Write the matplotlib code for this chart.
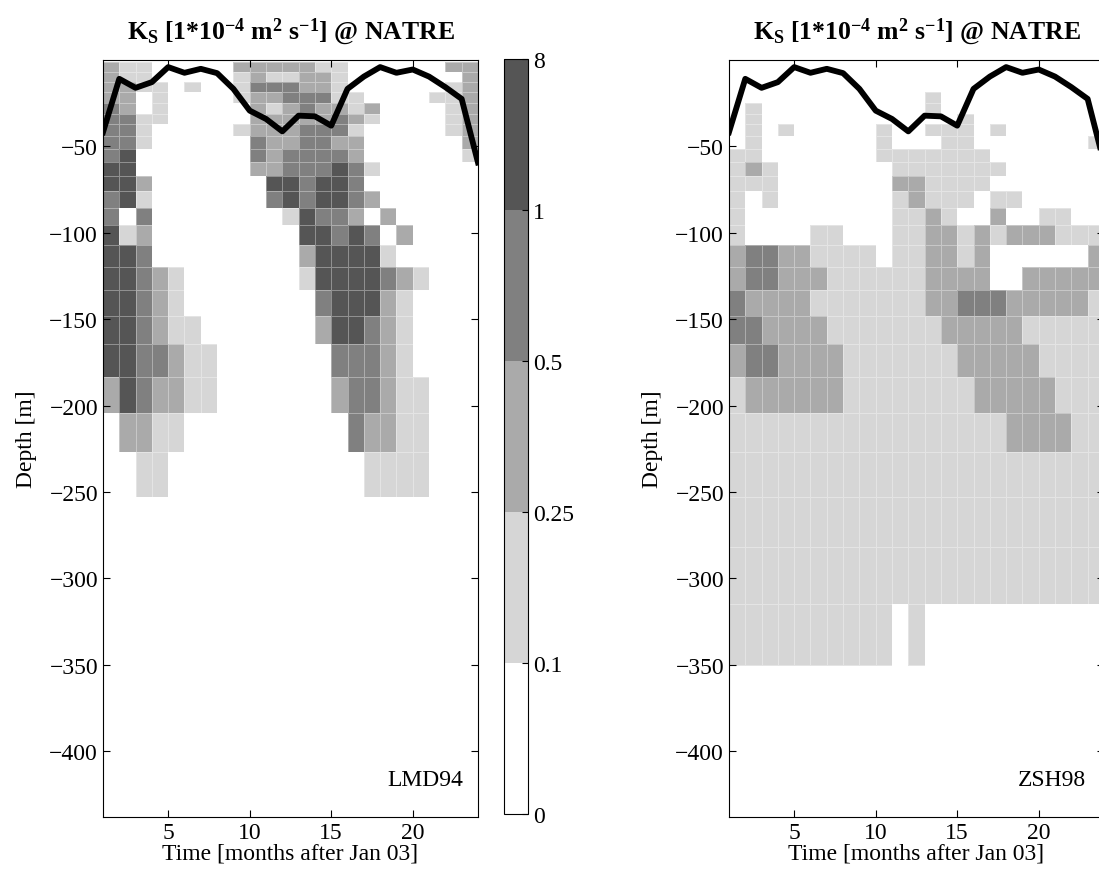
import matplotlib.pyplot as plt
import numpy as np
from matplotlib.colors import ListedColormap, BoundaryNorm

plt.rcParams.update({
    'font.family': 'Liberation Serif',
    'mathtext.fontset': 'custom',
    'mathtext.rm': 'Liberation Serif:bold',
    'mathtext.it': 'Liberation Serif:bold',
    'mathtext.bf': 'Liberation Serif:bold',
    'mathtext.default': 'rm',
})

# time axis (months after Jan 03) and model depth levels (cell edges)
months = np.arange(1, 25)
depth_edges = [-1, -7.2, -13.0, -18.8, -24.6, -31.0, -37.2, -44.0, -51.3, -58.9,
               -67.2, -75.9, -85.6, -95.7, -106.9, -119.5, -133.0, -148.1, -164.5,
               -183.3, -204.0, -226.8, -252.6, -282.0, -314.5, -350.2]

# mixed layer depth
mld = [-41.8, -10.9, -16.1, -12.8, -4.1, -7.4, -5.1, -7.6, -16.7, -29.3, -34.1, -41.3,
       -32.2, -32.6, -38.0, -16.7, -9.6, -4.1, -7.4, -5.5, -9.6, -15.7, -22.5, -59.3]

levels = [0, 0.1, 0.25, 0.5, 1, 8]
level_labels = ['0', '0.1', '0.25', '0.5', '1', '8']
# representative K_S value for each class 0..4
class_value = [0.05, 0.17, 0.35, 0.7, 2.0]

# class of each cell, one string per depth row (top to bottom), 23 months each
lmd94_rows = [
    "21100000222221100000022",
    "21100000121122100000002",
    "22110100133322100000012",
    "22010000122333110000112",
    "32010000021232212000012",
    "33110000022222321000012",
    "33100000122233310000012",
    "33100000032233220000002",
    "34000000032333320000001",
    "44000000022333431000000",
    "44200000004434430000000",
    "34100000003434432000000",
    "30300000000143320200000",
    "41200000000044343020000",
    "44300000000024444100000",
    "44321000000014444321000",
    "44321000000003444210000",
    "44321100000002443210000",
    "44332110000000333210000",
    "24322110000000233211000",
    "02211000000000032211000",
    "00110000000000001111000",
    "00000000000000000000000",
    "00000000000000000000000",
    "00000000000000000000000",
]

zsh98_rows = [
    "00000000000000000000000",
    "00000000000000000000000",
    "00000000000000000000000",
    "00000000000010000000000",
    "01000000000010000000000",
    "01000000000000100000000",
    "01010000010011101000000",
    "01000000010001100000001",
    "11000000011111110000000",
    "12100000001111111000000",
    "11100000002211110000000",
    "10100000001211101100000",
    "10000000001121002001100",
    "10000110001122121222111",
    "23322111101122120000002",
    "23322211111122220022222",
    "32222111111122333222221",
    "33222211111112222211111",
    "23322221111111222221111",
    "12222221111111122222111",
    "11111111111111111222211",
    "11111111111111111111111",
    "11111111111111111111111",
    "11111111111111111111111",
    "11111111110100000000000",
]


def to_field(rows):
    return np.array([[class_value[int(c)] for c in r] for r in rows])


cmap = ListedColormap(['#ffffff', '#d6d6d6', '#aaaaaa', '#808080', '#555555'])
norm = BoundaryNorm(levels, cmap.N)

fig = plt.figure(figsize=(10.99, 8.79), dpi=100)
title = 'K$_S$ [1*10$^{-4}$ m$^2$ s$^{-1}$] @ NATRE'


def panel(rect, rows, name):
    ax = fig.add_axes(rect)
    pc = ax.pcolormesh(months, depth_edges, to_field(rows), cmap=cmap, norm=norm,
                       edgecolors=(1, 1, 1, 0.35), linewidth=0.4)
    ax.plot(months, mld, color='k', lw=4.2, zorder=3)
    ax.set_xlim(1, 24)
    ax.set_ylim(-438, 0)
    ax.set_xticks([5, 10, 15, 20])
    ax.set_yticks(np.arange(-400, 0, 50))
    ax.tick_params(direction='in', length=5, top=True, right=True, labelsize=17)
    ax.set_xlabel('Time [months after Jan 03]', fontsize=17, labelpad=0)
    ax.set_ylabel('Depth [m]', fontsize=17, labelpad=9)
    ax.set_title(title, fontsize=18.5, fontweight='bold', pad=16)
    ax.text(0.86, 0.05, name, transform=ax.transAxes, ha='center', va='center', fontsize=17)
    return pc


pc = panel([0.0937, 0.0694, 0.3412, 0.8612], lmd94_rows, 'LMD94')
panel([0.6633, 0.0694, 0.3412, 0.8612], zsh98_rows, 'ZSH98')

cax = fig.add_axes([0.4586, 0.0728, 0.0218, 0.859])
cb = fig.colorbar(pc, cax=cax, boundaries=levels, spacing='uniform', ticks=levels)
cb.ax.set_yticklabels(level_labels)
cb.ax.tick_params(direction='in', length=4, labelsize=17)

fig.savefig('out.png', dpi=100)
